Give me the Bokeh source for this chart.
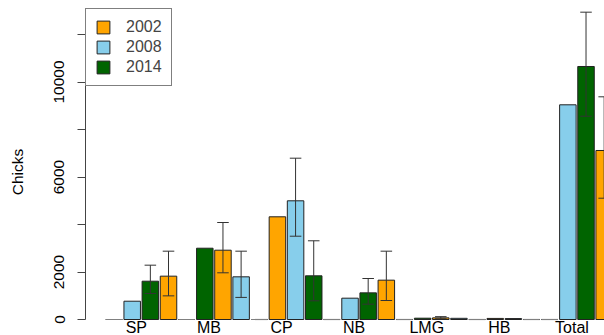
from bokeh.plotting import figure
from bokeh.models import Range1d, FixedTicker, Legend, LegendItem, ColumnDataSource
from bokeh.core.properties import value
from bokeh.embed import file_html
from bokeh.resources import INLINE

nan = float("nan")

sites = ["SP", "MB", "CP", "NB", "LMG", "HB", "Total"]
years = ["2002", "2008", "2014"]
year_colors = ["#FFA500", "#87CEEB", "#006400"]

# 28 bars, 4 per site (first of each site is an empty bar); colours recycle
bar_heights = [0, 770, 1613, 1825,
               0, 3002, 2918, 1797,
               0, 4324, 4998, 1840,
               0, 898, 1123, 1656,
               0, 55, 70, 50,
               0, 45, 40, 0,
               0, 9040, 10653, 7116]
err_low = [nan, nan, 1095, 996,
           nan, nan, 1966, 930,
           nan, nan, 3507, 787,
           nan, nan, 645, 800,
           nan, nan, 30, nan,
           nan, nan, nan, nan,
           nan, nan, 8560, 5107]
err_high = [nan, nan, 2287, 2877,
            nan, nan, 4084, 2877,
            nan, nan, 6792, 3314,
            nan, nan, 1726, 2877,
            nan, nan, 120, nan,
            nan, nan, nan, nan,
            nan, nan, 12940, 9377]

y_ticks = [0, 2000, 4000, 6000, 8000, 10000, 12000]
y_tick_labels = ["0", "2000", "", "6000", "", "10000", ""]

FONT = "Liberation Sans"
W, H = 604, 335
LEFT, TOP = 85, 8
FRAME_H = H - TOP
ZERO_FROM_TOP = 311       # px from frame top to y=0
Y_TOP = 13095             # data value at frame top
PX = Y_TOP / ZERO_FROM_TOP  # data units per pixel

n = len(bar_heights)
bar_x = [1.1 * (i + 1) - 0.5 for i in range(n)]
bar_col = [year_colors[i % 3] for i in range(n)]
label_x = [4.4 * k + 1.95 for k in range(len(sites))]
label_y = -8 * PX

p = figure(width=W, height=H,
           x_range=Range1d(-1.13, 30.32),
           y_range=Range1d(-(FRAME_H - ZERO_FROM_TOP) * PX, Y_TOP),
           output_backend="svg", toolbar_location=None,
           x_axis_location=None,
           min_border_left=LEFT, min_border_right=0,
           min_border_top=TOP, min_border_bottom=0)
p.outline_line_color = None
p.grid.visible = False
p.background_fill_color = "white"

src = ColumnDataSource(dict(x=bar_x, top=bar_heights, color=bar_col))
r = p.vbar(x="x", top="top", bottom=0, width=1.0, fill_color="color",
           line_color="#222222", line_width=1, source=src)

# empty bars show as a flat line on the baseline
zi = [i for i in range(n) if bar_heights[i] == 0]
p.segment(x0=[bar_x[i] - 0.5 for i in zi], y0=[0] * len(zi),
          x1=[bar_x[i] + 0.5 for i in zi], y1=[0] * len(zi),
          line_color="#808080", line_width=1.2)

idx = [i for i in range(n) if err_low[i] == err_low[i]]
ex = [bar_x[i] for i in idx]
lo = [err_low[i] for i in idx]
hi = [err_high[i] for i in idx]
cap = 0.35
ecol = "#333333"
p.segment(x0=ex, y0=lo, x1=ex, y1=hi, line_color=ecol, line_width=1)
p.segment(x0=[x - cap for x in ex], y0=hi, x1=[x + cap for x in ex], y1=hi, line_color=ecol, line_width=1)
p.segment(x0=[x - cap for x in ex], y0=lo, x1=[x + cap for x in ex], y1=lo, line_color=ecol, line_width=1)

p.text(x=label_x, y=[label_y] * len(sites), text=sites,
       text_align="center", text_baseline="alphabetic",
       text_font=value(FONT), text_font_size="16px", text_color="black")

ax = p.yaxis[0]
ax.ticker = FixedTicker(ticks=y_ticks)
ax.major_label_overrides = {t: l for t, l in zip(y_ticks, y_tick_labels)}
ax.bounds = (0, 12000)
ax.minor_tick_line_color = None
ax.major_tick_out = 8
ax.major_tick_in = 0
ax.axis_line_color = "#444444"
ax.major_tick_line_color = "#444444"
ax.major_label_orientation = "vertical"
ax.major_label_standoff = 13
ax.major_label_text_font = FONT
ax.major_label_text_font_size = "15.5px"
ax.major_label_text_color = "black"
ax.axis_label = "Chicks"
ax.axis_label_text_font = FONT
ax.axis_label_text_font_size = "15.5px"
ax.axis_label_text_font_style = "normal"
ax.axis_label_text_color = "black"
ax.axis_label_standoff = 26

items = [LegendItem(label=years[j], renderers=[r], index=j) for j in range(3)]
legend = Legend(items=items, location="top_left", margin=0, padding=9,
                spacing=2, glyph_width=16, glyph_height=16, label_standoff=15,
                label_width=34,
                label_text_font=FONT, label_text_font_size="16px", label_height=18,
                border_line_color="black", border_line_width=1,
                background_fill_color="white", background_fill_alpha=1)
p.add_layout(legend)

open("out.html", "w").write(file_html(p, INLINE))
